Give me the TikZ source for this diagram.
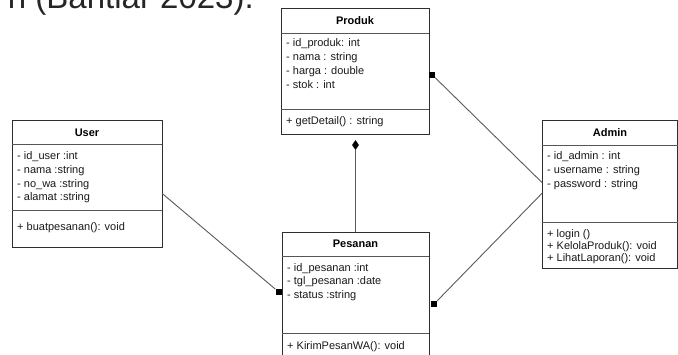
\documentclass[tikz,border=0pt]{standalone}
\usepackage{fontspec}
\setmainfont{Liberation Sans}
\usetikzlibrary{shapes.geometric}
\definecolor{boxline}{HTML}{2E2E2E}
\definecolor{sepcol}{HTML}{555555}
\definecolor{conncol}{HTML}{5A5A5A}
\begin{document}
\begin{tikzpicture}[x=1pt,y=-1pt,
 classbox/.style={draw=boxline, line width=0.9pt, inner sep=0, outer sep=0, anchor=north west},
 sepline/.style={draw=sepcol, line width=0.8pt},
 ctitle/.style={font=\fontsize{11}{13}\selectfont\bfseries, inner sep=0, text height=8pt, text depth=2pt},
 attr/.style={font=\fontsize{11}{13}\selectfont, inner sep=0, anchor=west, text height=8pt, text depth=2.5pt, text=black!90},
 conn/.style={draw=conncol, line width=0.9pt},
 sqmark/.style={fill=black, inner sep=0, minimum size=6pt},
 diamark/.style={diamond, fill=black, inner sep=0, minimum width=7pt, minimum height=10pt},
]
\useasboundingbox (0,0) rectangle (678,354);
\clip (0,0) rectangle (678,354);

% caption fragment
\node[font=\fontsize{33}{40}\selectfont, anchor=base east, inner sep=0, text=black!85] (cap) at (254,8) {n (Bantiar 2023).};

% ---- Produk ----
\node[classbox, minimum width=148pt, minimum height=126pt] (produk) at (281,8) {};
\node[ctitle] (produkT) at (355,21) {Produk};
\draw[sepline] (281,33) -- (429,33);
\draw[sepline] (281,109) -- (429,109);
\node[attr] (p1) at (286,43.5) {- id\_produk: int};
\node[attr] (p2) at (286,57.5) {- nama : string};
\node[attr] (p3) at (286,71.5) {- harga : double};
\node[attr] (p4) at (286,85.5) {- stok : int};
\node[attr] (pm1) at (286,122) {+ getDetail() : string};

% ---- User ----
\node[classbox, minimum width=150pt, minimum height=127pt] (user) at (12,120) {};
\node[ctitle] (userT) at (87,133) {User};
\draw[sepline] (12,144.5) -- (162,144.5);
\draw[sepline] (12,210) -- (162,210);
\node[attr] (u1) at (17,157) {- id\_user :int};
\node[attr] (u2) at (17,171) {- nama :string};
\node[attr] (u3) at (17,184.5) {- no\_wa :string};
\node[attr] (u4) at (17,198) {- alamat :string};
\node[attr] (um1) at (17,227.5) {+ buatpesanan(): void};

% ---- Admin ----
\node[classbox, minimum width=135.5pt, minimum height=148pt] (admin) at (542,120) {};
\node[ctitle] (adminT) at (610,133.5) {Admin};
\draw[sepline] (542,145) -- (677.5,145);
\draw[sepline] (542,222) -- (677.5,222);
\node[attr] (a1) at (547,157) {- id\_admin : int};
\node[attr] (a2) at (547,171) {- username : string};
\node[attr] (a3) at (547,184.5) {- password : string};
\node[attr] (am1) at (547,235) {+ login ()};
\node[attr] (am2) at (547,246.8) {+ KelolaProduk(): void};
\node[attr] (am3) at (547,258.5) {+ LihatLaporan(): void};

% ---- Pesanan ----
\node[classbox, minimum width=147pt, minimum height=140pt] (pesanan) at (282,232) {};
\node[ctitle] (pesananT) at (355.5,244.5) {Pesanan};
\draw[sepline] (282,256) -- (429,256);
\draw[sepline] (282,333) -- (429,333);
\node[attr] (s1) at (287,268.5) {- id\_pesanan :int};
\node[attr] (s2) at (287,282) {- tgl\_pesanan :date};
\node[attr] (s3) at (287,296) {- status :string};
\node[attr] (sm1) at (287,347) {+ KirimPesanWA(): void};

% ---- connectors ----
\coordinate (uOut) at (162,193.3);
\node[sqmark] (sqU) at (278.5,292.3) {};
\draw[conn] (uOut) -- (sqU.north west);

\node[diamark] (dia) at (355.5,145) {};
\draw[conn] (dia.south) -- (dia.south |- pesanan.north);

\node[sqmark] (sqP) at (432,74.5) {};
\coordinate (aIn1) at (542,182.5);
\draw[conn] (sqP.south east) -- (aIn1);

\coordinate (aIn2) at (542,193.3);
\node[sqmark] (sqS) at (434,304) {};
\draw[conn] (aIn2) -- (sqS.north east);

\end{tikzpicture}
\end{document}
